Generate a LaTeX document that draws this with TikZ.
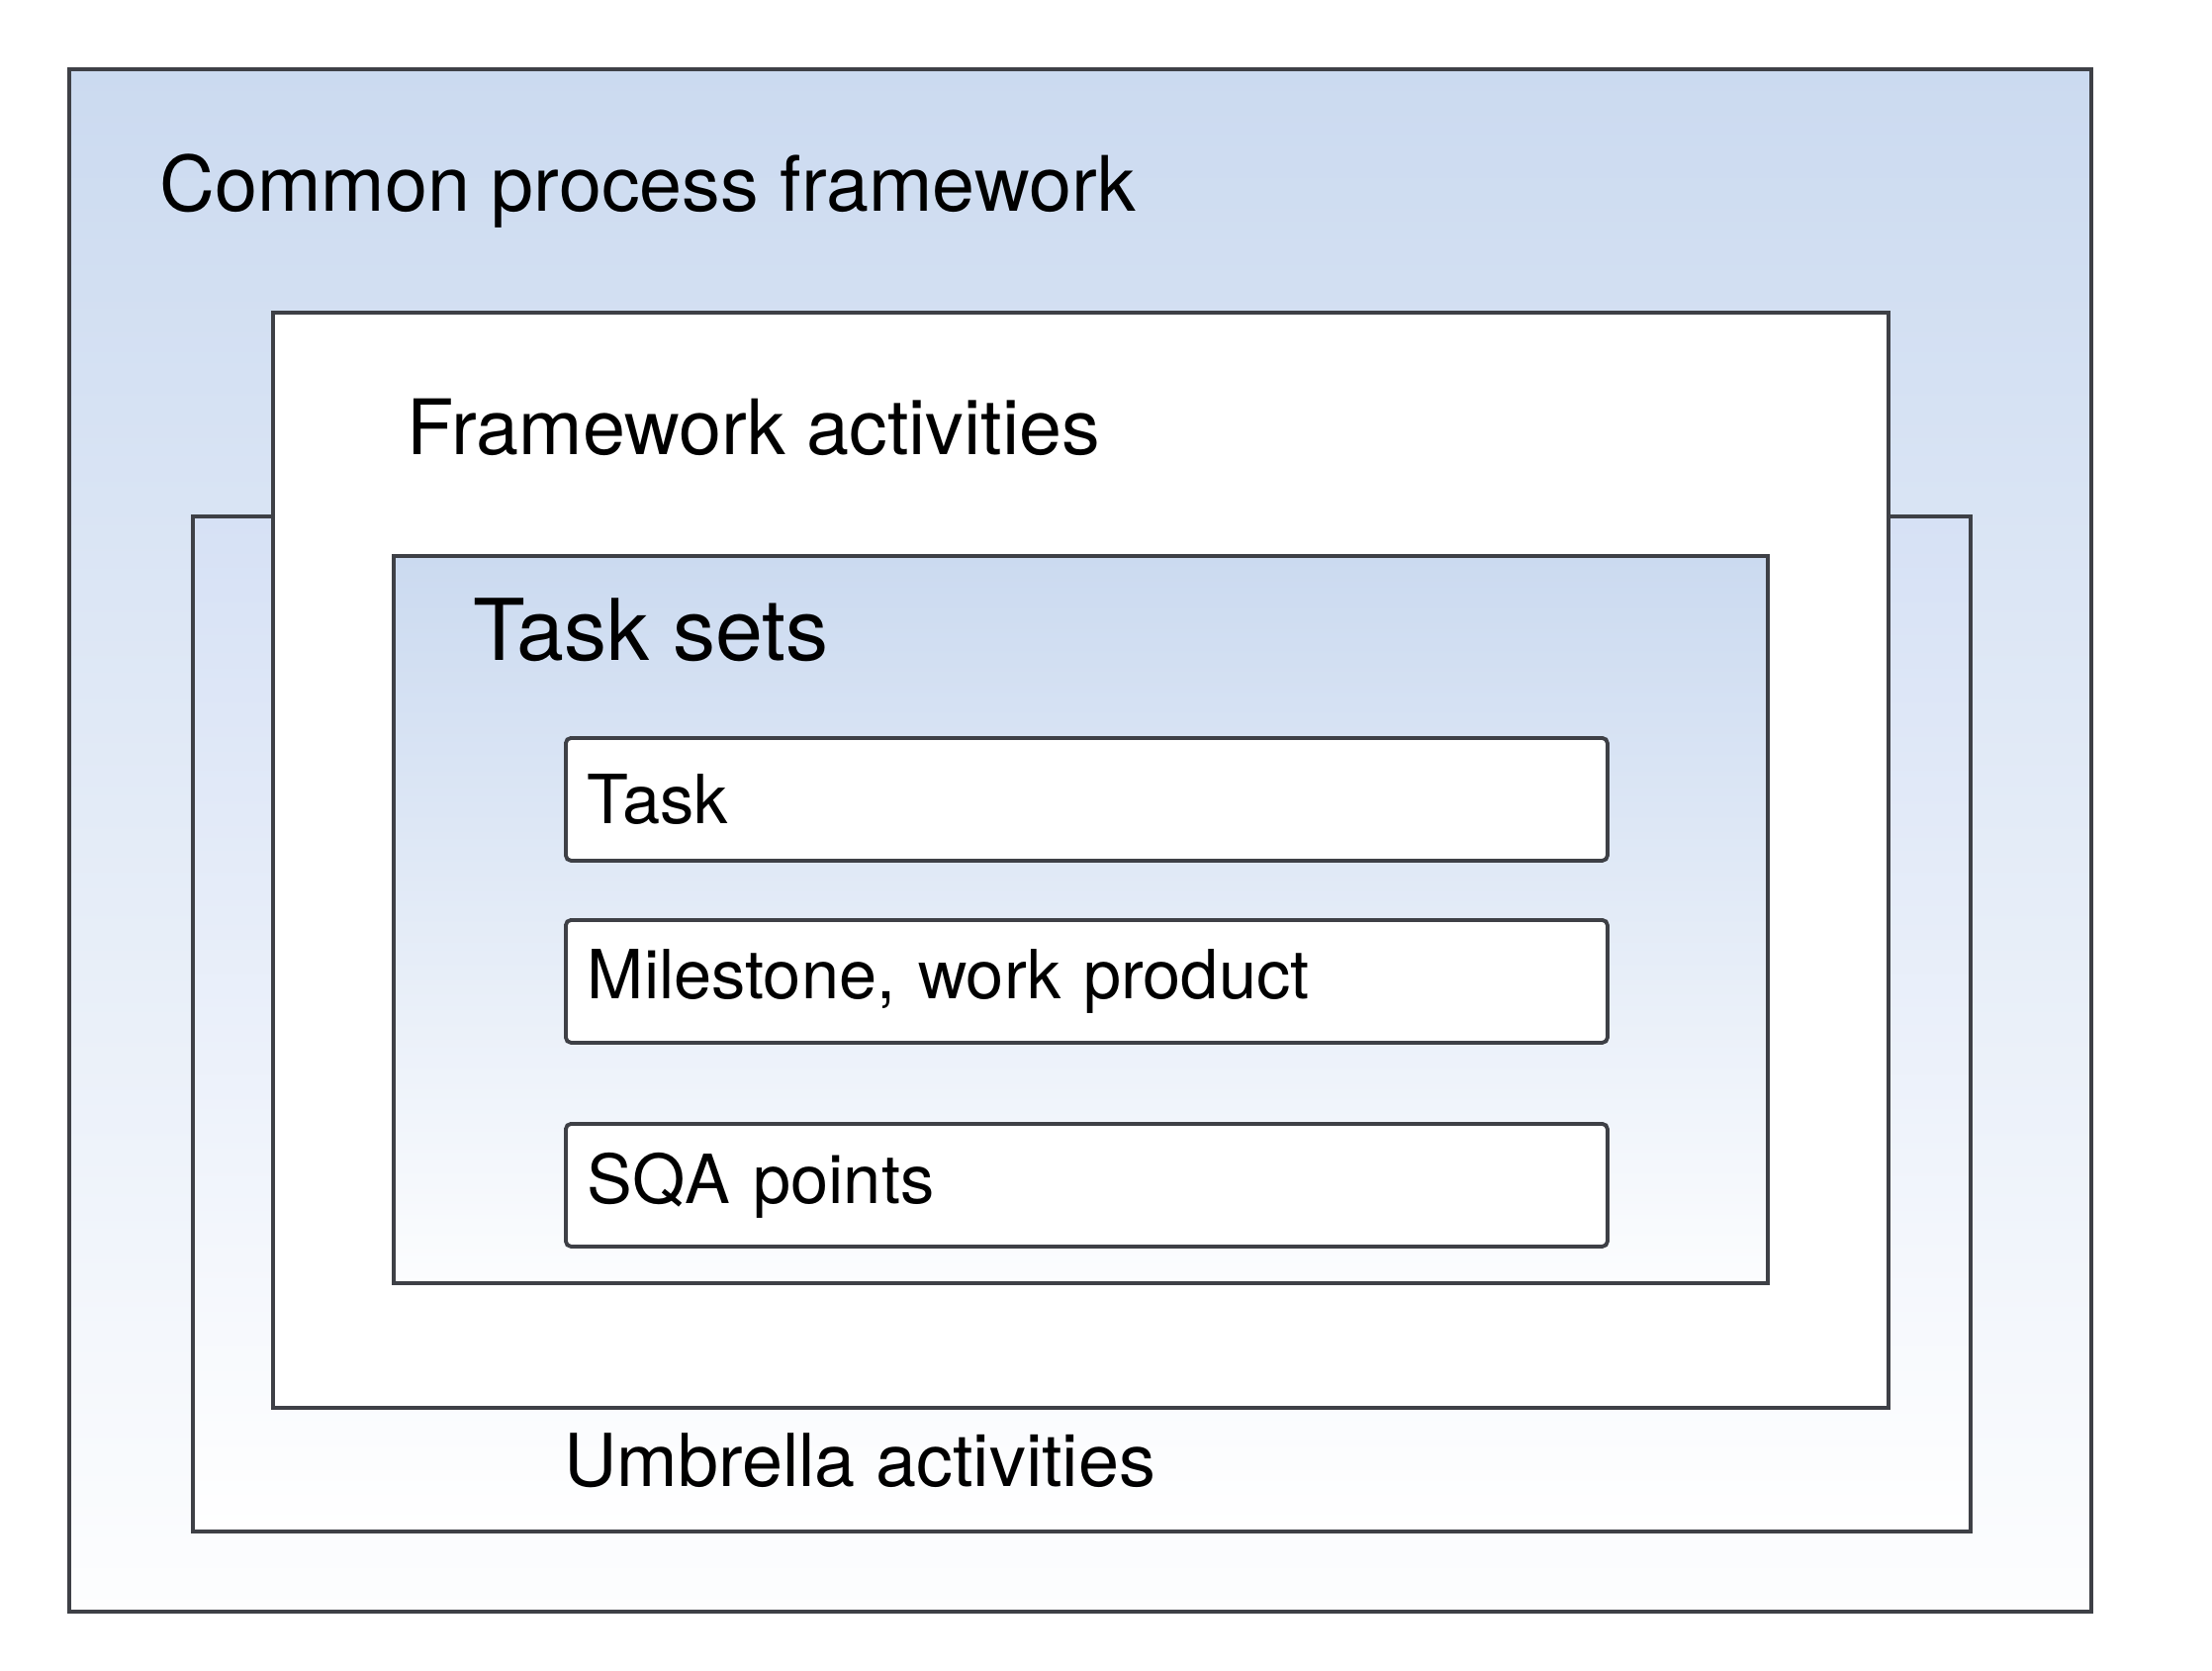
\documentclass[tikz,border=0pt]{standalone}
\usepackage{fontspec}
\setmainfont{TeX Gyre Heros}
\usetikzlibrary{positioning}

\definecolor{paleblue}{RGB}{203,218,240}
\definecolor{mistblue}{RGB}{214,225,245}
\definecolor{linegray}{RGB}{62,64,70}

\begin{document}
\begin{tikzpicture}[
    layer/.style={draw=linegray, line width=1.1pt, anchor=north west, inner sep=0pt},
    itembox/.style={layer, fill=white, rounded corners=1.5pt, minimum width=10.53cm, minimum height=1.24cm,
        inner xsep=0.22cm, text width=10.09cm, align=left, text=black, font=\fontsize{19.5pt}{22pt}\selectfont},
    lbl/.style={anchor=base west, inner sep=0pt, text=black}
]
    \useasboundingbox (0,0) rectangle (22.36,-16.89);

    % Outer frame: common process framework
    \node[layer, top color=paleblue, bottom color=white!96!paleblue,
          minimum width=20.44cm, minimum height=15.59cm] (cpf) at (0.68,-0.68) {};

    % Umbrella activities (behind the framework activities)
    \node[layer, top color=mistblue, bottom color=white,
          minimum width=17.97cm, minimum height=10.26cm] (umb) at (1.93,-5.20) {};

    % Framework activities
    \node[layer, fill=white, minimum width=16.33cm, minimum height=11.07cm] (fwa) at (2.74,-3.14) {};

    % Task sets
    \node[layer, top color=paleblue, bottom color=white!94!paleblue,
          minimum width=13.89cm, minimum height=7.35cm] (tset) at (3.96,-5.60) {};

    % Items of a task set
    \node[itembox] (task) at (5.70,-7.44) {Task};
    \node[itembox] (mile) at (5.70,-9.28) {Milestone, work product};
    \node[itembox] (sqa)  at (5.70,-11.34) {SQA points};

    % Labels
    \node[lbl, font=\fontsize{22pt}{26pt}\selectfont] (cpflbl) at (1.61,-2.14) {Common process framework};
    \node[lbl, font=\fontsize{22pt}{26pt}\selectfont] (fwalbl) at (4.11,-4.59) {Framework activities};
    \node[lbl, font=\fontsize{24.5pt}{28pt}\selectfont] (tsetlbl) at (4.78,-6.67) {Task sets};
    \node[lbl, font=\fontsize{21pt}{25pt}\selectfont] (umblbl) at (5.70,-15.02) {Umbrella activities};
\end{tikzpicture}
\end{document}
